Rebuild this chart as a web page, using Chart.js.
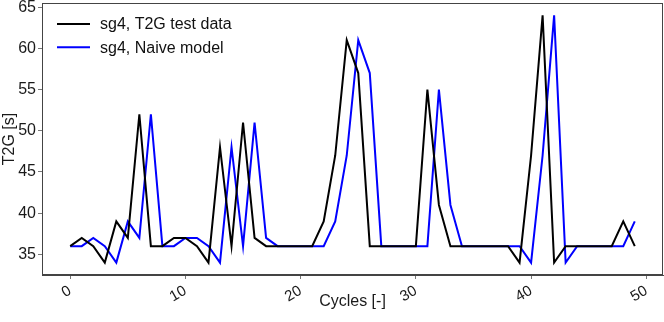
<!DOCTYPE html>
<html>
<head>
<meta charset="utf-8">
<script src="https://cdn.jsdelivr.net/npm/chart.js@4/dist/chart.umd.min.js"></script>
<style>
  html, body { margin: 0; padding: 0; background: #ffffff; }
  #wrap { width: 664px; height: 322px; }
</style>
</head>
<body>
<div id="wrap"><canvas id="c" width="664" height="322"></canvas></div>
<script>
// ---- data ----
const cycles = Array.from({length: 50}, (_, i) => i);
const testData = [36, 37, 36, 34, 39, 37, 52, 36, 36, 37,
                  37, 36, 34, 48, 36, 51, 37, 36, 36, 36,
                  36, 36, 39, 47, 61, 57, 36, 36, 36, 36,
                  36, 55, 41, 36, 36, 36, 36, 36, 36, 34,
                  47, 64, 34, 36, 36, 36, 36, 36, 39, 36];
const naiveModel = [36, 36, 37, 36, 34, 39, 37, 52, 36, 36,
                    37, 37, 36, 34, 48, 36, 51, 37, 36, 36,
                    36, 36, 36, 39, 47, 61, 57, 36, 36, 36,
                    36, 36, 55, 41, 36, 36, 36, 36, 36, 36,
                    34, 47, 64, 34, 36, 36, 36, 36, 36, 39];
const seriesLabels = ['sg4, T2G test data', 'sg4, Naive model'];
const xTicks = [0, 10, 20, 30, 40, 50];
const yTicks = [35, 40, 45, 50, 55, 60, 65];

const FONT = "'Liberation Sans', Arial, Helvetica, sans-serif";

const boxPlugin = {
  id: 'box',
  afterDraw(chart) {
    const {ctx, chartArea: a} = chart;
    ctx.save();
    ctx.strokeStyle = '#444';
    ctx.lineWidth = 1;
    ctx.strokeRect(Math.round(a.left) + 0.5, Math.round(a.top) + 0.5,
                   Math.round(a.right - a.left) - 1, Math.round(a.bottom - a.top) - 1);
    ctx.restore();
  }
};

const legendPlugin = {
  id: 'innerLegend',
  afterDraw(chart) {
    const {ctx, chartArea: a} = chart;
    ctx.save();
    chart.data.datasets.forEach((ds, i) => {
      const y = a.top + 21 + i * 23.3;
      ctx.strokeStyle = ds.borderColor;
      ctx.lineWidth = 2;
      ctx.beginPath();
      ctx.moveTo(a.left + 15, y);
      ctx.lineTo(a.left + 48, y);
      ctx.stroke();
      ctx.fillStyle = '#111';
      ctx.font = '16px ' + FONT;
      ctx.textBaseline = 'middle';
      ctx.textAlign = 'left';
      ctx.fillText(ds.label, a.left + 58, y + 1);
    });
    ctx.restore();
  }
};

new Chart(document.getElementById('c'), {
  type: 'line',
  data: {
    datasets: [
      {
        label: seriesLabels[0],
        data: cycles.map((x, i) => ({x: x, y: testData[i]})),
        borderColor: '#000000',
        backgroundColor: '#000000',
        borderWidth: 2,
        pointRadius: 0,
        tension: 0,
        fill: false
      },
      {
        label: seriesLabels[1],
        data: cycles.map((x, i) => ({x: x, y: naiveModel[i]})),
        borderColor: '#0000ff',
        backgroundColor: '#0000ff',
        borderWidth: 2,
        pointRadius: 0,
        tension: 0,
        fill: false
      }
    ]
  },
  options: {
    responsive: false,
    devicePixelRatio: 1,
    animation: false,
    layout: { padding: { top: 3, right: 1, left: 0, bottom: 0 } },
    plugins: {
      legend: { display: false },
      tooltip: { enabled: false }
    },
    scales: {
      x: {
        type: 'linear',
        min: -2.45,
        max: 51.45,
        afterBuildTicks: s => { s.ticks = xTicks.map(v => ({value: v})); },
        afterFit: s => { s.height = 47; s.paddingLeft = 0; s.paddingRight = 0; },
        ticks: {
          minRotation: 30,
          maxRotation: 30,
          padding: 3,
          color: '#1a1a1a',
          font: { size: 15, family: FONT }
        },
        grid: { drawOnChartArea: false, drawTicks: true, tickLength: 4, color: '#777' },
        border: { display: true, color: '#444' },
        title: {
          display: true,
          text: 'Cycles [-]',
          color: '#1a1a1a',
          font: { size: 16, family: FONT },
          padding: { top: 0, bottom: 11 }
        }
      },
      y: {
        type: 'linear',
        min: 32.5,
        max: 65.5,
        afterBuildTicks: s => { s.ticks = yTicks.map(v => ({value: v})); },
        afterFit: s => { s.width = 42; s.paddingTop = 0; s.paddingBottom = 0; },
        ticks: {
          padding: 2,
          color: '#1a1a1a',
          font: { size: 16, family: FONT }
        },
        grid: { drawOnChartArea: false, drawTicks: true, tickLength: 4, color: '#777' },
        border: { display: true, color: '#444' },
        title: {
          display: true,
          text: 'T2G [s]',
          color: '#1a1a1a',
          font: { size: 16, family: FONT },
          padding: { top: 0, bottom: 0 }
        }
      }
    }
  },
  plugins: [boxPlugin, legendPlugin]
});
</script>
</body>
</html>
